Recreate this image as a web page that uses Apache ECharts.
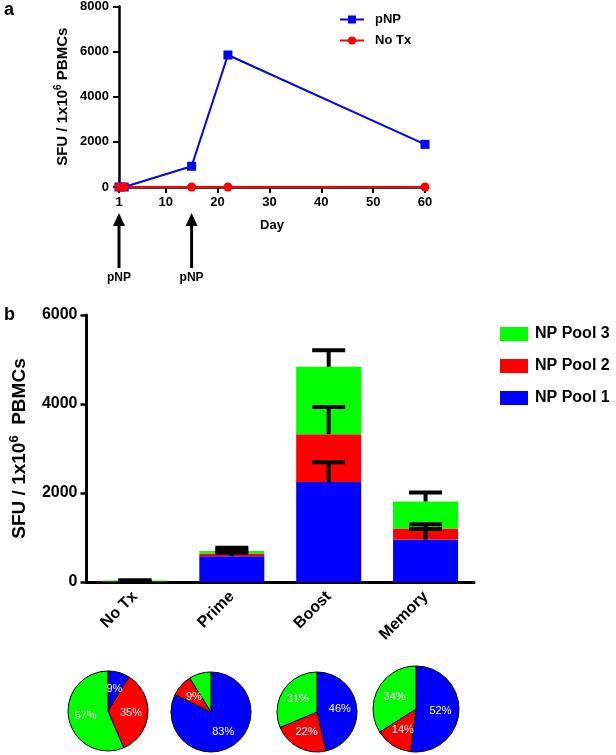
<!DOCTYPE html>
<html><head><meta charset="utf-8">
<script src="https://cdn.jsdelivr.net/npm/echarts@6/dist/echarts.min.js"></script>
<style>html,body{margin:0;padding:0;background:#fff}#c{width:616px;height:755px}</style>
</head><body><div id="c"></div>
<script>
// ---- Panel a data ----
const days = [1, 2, 15, 22, 60];
const pnpValues = [0, 0, 920, 5850, 1890];
const noTxValues = [0, 0, 0, 0, 0];
const dayTicks = [1, 10, 20, 30, 40, 50, 60];
const arrowDays = [1, 15];
const arrowLabels = ['pNP', 'pNP'];
// ---- Panel b data ----
const categories = ['No Tx', 'Prime', 'Boost', 'Memory'];
const pool1 = [3, 578, 2250, 954];
const pool2 = [12, 61, 1073, 247];
const pool3 = [20, 58, 1514, 608];
const errTop1 = [10, 660, 2690, 1190];
const errTop2 = [25, 710, 3930, 1300];
const errTop3 = [40, 770, 5210, 2010];
// ---- Pie percentages ----
const piePool1 = [9, 83, 46, 52];
const piePool2 = [35, 9, 22, 14];
const piePool3 = [57, 9, 31, 34];

const FONT = 'Liberation Sans, Arial, sans-serif';
const BLUE = '#0000ff', RED = '#ff0000', GREEN = '#00ff00';

const chart = echarts.init(document.getElementById('c'), null, {renderer: 'canvas'});

const lineData = (vals) => days.map((d, i) => [d, vals[i]]);
const plain = (v) => String(v);

// stacked tops for error bars
const errData = [];
categories.forEach((c, i) => {
  const t1 = pool1[i], t2 = t1 + pool2[i], t3 = t2 + pool3[i];
  errData.push([i, t1, errTop1[i]]);
  errData.push([i, t2, errTop2[i]]);
  errData.push([i, t3, errTop3[i]]);
});

const pieCenters = [[108, 711], [211, 712], [317, 712], [416, 709]];
const pieRadii = [40, 40, 40, 43];
const pieSeries = categories.map((c, i) => ({
  type: 'pie',
  center: pieCenters[i],
  radius: pieRadii[i],
  startAngle: 90,
  clockwise: true,
  silent: true,
  animation: false,
  data: [
    {name: 'NP Pool 1', value: piePool1[i], itemStyle: {color: BLUE}},
    {name: 'NP Pool 2', value: piePool2[i], itemStyle: {color: RED}},
    {name: 'NP Pool 3', value: piePool3[i], itemStyle: {color: GREEN}}
  ],
  itemStyle: {borderColor: '#000', borderWidth: 1},
  label: {show: true, position: 'inner', color: '#fff', fontSize: 11, fontFamily: FONT, formatter: '{c}%'},
  labelLine: {show: false},
  emphasis: {disabled: true}
}));

const axisNameRich = (size) => ({
  m: {fontSize: size, fontWeight: 'bold', fontFamily: FONT, color: '#000', lineHeight: size + 4},
  s: {fontSize: Math.round(size * 0.68), fontWeight: 'bold', fontFamily: FONT, color: '#000', verticalAlign: 'top', lineHeight: size + 4, padding: [0, 0, Math.round(size*0.5), 0]}
});

const option = {
  animation: false,
  backgroundColor: '#fff',
  grid: [
    {left: 119, top: 5, width: 306, height: 182},
    {left: 82, top: 315, width: 392, height: 267}
  ],
  xAxis: [
    {
      gridIndex: 0, type: 'value', min: 1, max: 60,
      name: 'Day', nameLocation: 'middle', nameGap: 32,
      nameTextStyle: {fontSize: 13, fontWeight: 'bold', fontFamily: FONT, color: '#000'},
      axisLine: {lineStyle: {color: '#000', width: 2.5}},
      axisTick: {length: 6, lineStyle: {color: '#000', width: 2}, customValues: dayTicks},
      axisLabel: {fontSize: 13, fontWeight: 'bold', fontFamily: FONT, color: '#000', margin: 9, customValues: dayTicks, formatter: plain},
      splitLine: {show: false}
    },
    {
      gridIndex: 1, type: 'category', data: categories,
      axisLine: {lineStyle: {color: '#000', width: 3}},
      axisTick: {alignWithLabel: true, length: 7, lineStyle: {color: '#000', width: 2.5}},
      axisLabel: {rotate: 45, fontSize: 16, fontWeight: 'bold', fontFamily: FONT, color: '#000', margin: 12},
      splitLine: {show: false}
    }
  ],
  yAxis: [
    {
      gridIndex: 0, type: 'value', min: 0, max: 8000, interval: 2000,
      name: '{m|SFU / 1x10}{s|6}{m| PBMCs}', nameLocation: 'middle', nameGap: 47,
      nameTextStyle: {rich: axisNameRich(15)},
      axisLine: {show: true, lineStyle: {color: '#000', width: 2.5}},
      axisTick: {show: true, length: 6, lineStyle: {color: '#000', width: 2}},
      axisLabel: {fontSize: 13, fontWeight: 'bold', fontFamily: FONT, color: '#000', margin: 10, formatter: plain},
      splitLine: {show: false}
    },
    {
      gridIndex: 1, type: 'value', min: 0, max: 6000, interval: 2000,
      name: '{m|SFU / 1x10}{s|6}{m|  PBMCs}', nameLocation: 'middle', nameGap: 45,
      nameTextStyle: {rich: axisNameRich(19)},
      axisLine: {show: true, lineStyle: {color: '#000', width: 3}},
      axisTick: {show: true, length: 6, lineStyle: {color: '#000', width: 2.5}},
      axisLabel: {fontSize: 16, fontWeight: 'bold', fontFamily: FONT, color: '#000', margin: 9, formatter: plain},
      splitLine: {show: false}
    }
  ],
  legend: [
    {
      data: ['pNP', 'No Tx'], orient: 'vertical', left: 334, top: 8, itemGap: 8,
      itemWidth: 24, itemHeight: 10,
      textStyle: {fontSize: 13, fontWeight: 'bold', fontFamily: FONT, color: '#000', padding: [0, 0, 0, 6]},
      selectedMode: false
    },
    {
      data: ['NP Pool 3', 'NP Pool 2', 'NP Pool 1'], orient: 'vertical', left: 495, top: 321, itemGap: 16,
      itemWidth: 28, itemHeight: 14, icon: 'rect',
      textStyle: {fontSize: 16, fontWeight: 'bold', fontFamily: FONT, color: '#000', padding: [0, 0, 0, 2]},
      selectedMode: false
    }
  ],
  series: [
    {
      name: 'pNP', type: 'line', xAxisIndex: 0, yAxisIndex: 0, data: lineData(pnpValues),
      symbol: 'rect', symbolSize: 9, clip: false,
      lineStyle: {color: BLUE, width: 2}, itemStyle: {color: BLUE}
    },
    {
      name: 'No Tx', type: 'line', xAxisIndex: 0, yAxisIndex: 0, data: lineData(noTxValues),
      symbol: 'circle', symbolSize: 9, clip: false,
      lineStyle: {color: RED, width: 2}, itemStyle: {color: RED}
    },
    {name: 'NP Pool 1', type: 'bar', xAxisIndex: 1, yAxisIndex: 1, stack: 'np', data: pool1, barWidth: 65, itemStyle: {color: BLUE}},
    {name: 'NP Pool 2', type: 'bar', xAxisIndex: 1, yAxisIndex: 1, stack: 'np', data: pool2, barWidth: 65, itemStyle: {color: RED}},
    {name: 'NP Pool 3', type: 'bar', xAxisIndex: 1, yAxisIndex: 1, stack: 'np', data: pool3, barWidth: 65, itemStyle: {color: GREEN}},
    {
      name: 'err', type: 'custom', xAxisIndex: 1, yAxisIndex: 1, data: errData, z: 10,
      renderItem: function (params, api) {
        const lo = api.coord([api.value(0), api.value(1)]);
        const hi = api.coord([api.value(0), api.value(2)]);
        const hw = 16.5;
        const st = {stroke: '#000', lineWidth: 4};
        return {type: 'group', children: [
          {type: 'line', shape: {x1: lo[0], y1: lo[1], x2: hi[0], y2: hi[1]}, style: st},
          {type: 'line', shape: {x1: hi[0] - hw, y1: hi[1], x2: hi[0] + hw, y2: hi[1]}, style: st}
        ]};
      }
    }
  ].concat(pieSeries)
};

chart.setOption(option);

// arrows below panel a axis, placed through the x scale
const gr = [
  {type: 'text', left: 4, top: 1, style: {text: 'a', font: 'bold 18px ' + FONT, fill: '#000'}},
  {type: 'text', left: 4, top: 306, style: {text: 'b', font: 'bold 18px ' + FONT, fill: '#000'}}
];
arrowDays.forEach((d, i) => {
  const x = chart.convertToPixel({xAxisIndex: 0}, d);
  gr.push({type: 'polygon', shape: {points: [[x, 213], [x - 6, 226], [x + 6, 226]]}, style: {fill: '#000'}});
  gr.push({type: 'rect', shape: {x: x - 1.5, y: 224, width: 3, height: 44}, style: {fill: '#000'}});
  gr.push({type: 'text', x: x, y: 278, style: {text: arrowLabels[i], font: 'bold 12px ' + FONT, fill: '#000', align: 'center', verticalAlign: 'middle'}});
});
chart.setOption({graphic: gr});
</script></body></html>
